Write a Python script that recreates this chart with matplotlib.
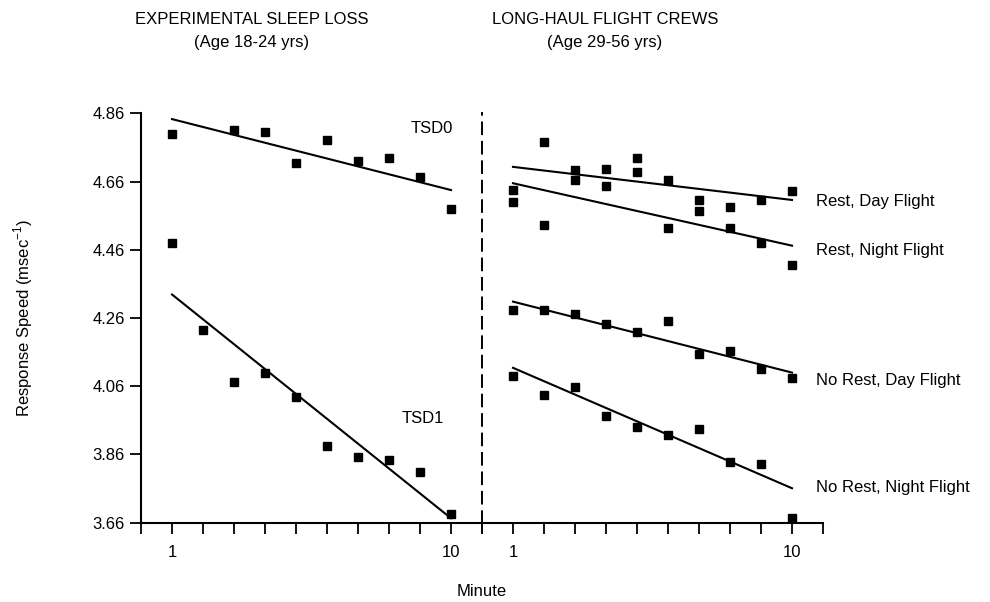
import numpy as np
import matplotlib
matplotlib.use("Agg")
import matplotlib.pyplot as plt

plt.rcParams['font.family'] = ['Liberation Sans', 'DejaVu Sans']

# minute bins (log spaced positions)
minutes = [1.0, 1.29, 1.67, 2.15, 2.78, 3.59, 4.64, 5.99, 7.74, 10.0]

# experimental sleep loss
tsd0 = [4.798, np.nan, 4.811, 4.804, 4.714, 4.782, 4.719, 4.729, 4.673, 4.580]
tsd1 = [4.480, 4.225, 4.073, 4.098, 4.027, 3.885, 3.853, 3.845, 3.808, 3.685]

# long-haul flight crews
rest_day = [4.634, 4.777, 4.694, 4.696, 4.728, 4.665, 4.606, 4.585, 4.606, 4.633]
rest_night = [4.601, 4.533, 4.664, 4.648, 4.689, 4.524, 4.573, 4.524, 4.480, 4.416]
norest_day = [4.283, 4.282, 4.273, 4.242, 4.218, 4.250, 4.155, 4.162, 4.110, 4.084]
norest_night = [4.090, 4.035, 4.059, 3.973, 3.941, 3.917, 3.934, 3.838, 3.832, 3.673]

# fitted lines, value at minute 1 and minute 10
fit_x = [1, 10]
fit_tsd0 = [4.843, 4.635]
fit_tsd1 = [4.329, 3.673]
fit_rest_day = [4.703, 4.606]
fit_rest_night = [4.655, 4.472]
fit_norest_day = [4.308, 4.100]
fit_norest_night = [4.114, 3.761]

yticks = [3.66, 3.86, 4.06, 4.26, 4.46, 4.66, 4.86]
xticks = [10 ** (k / 9) for k in range(-1, 11)]
xlim = (10 ** (-1 / 9), 10 ** (10 / 9))

fig = plt.figure(figsize=(9.9, 6.02), dpi=100)
W, H = 990, 602
bot, top = 522.7, 113.3
ax1 = fig.add_axes([141 / W, 1 - bot / H, (482 - 141) / W, (bot - top) / H])
ax2 = fig.add_axes([482 / W, 1 - bot / H, (823 - 482) / W, (bot - top) / H], sharey=ax1)

for ax in (ax1, ax2):
    ax.set_xscale('log')
    ax.set_xlim(*xlim)
    ax.set_ylim(3.66, 4.86)
    ax.set_xticks(xticks)
    ax.set_xticklabels(['1' if abs(t - 1) < 1e-6 else '10' if abs(t - 10) < 1e-6 else '' for t in xticks])
    ax.xaxis.set_minor_locator(matplotlib.ticker.NullLocator())
    ax.spines['top'].set_visible(False)
    ax.spines['right'].set_visible(False)
    ax.spines['bottom'].set_linewidth(1.5)
    ax.tick_params(axis='x', direction='out', length=8, width=1.3, labelsize=12, pad=8)
    ax.patch.set_visible(False)

ax1.spines['left'].set_linewidth(1.5)
ax1.set_yticks(yticks)
ax1.set_yticklabels(['%.2f' % v for v in yticks])
ax1.tick_params(axis='y', direction='out', length=8, width=1.3, labelsize=12)

ax2.spines['left'].set_linestyle((0, (6, 4)))
ax2.spines['left'].set_linewidth(1.4)
ax2.tick_params(axis='y', left=False, labelleft=False)

mk = dict(marker='s', color='black', linestyle='none', markersize=6)
ln = dict(color='black', linewidth=1.5)

ax1.plot(minutes, tsd0, **mk)
ax1.plot(minutes, tsd1, **mk)
ax1.plot(fit_x, fit_tsd0, **ln)
ax1.plot(fit_x, fit_tsd1, **ln)
ax1.text(8.53, 4.816, 'TSD0', fontsize=12, ha='center', va='center')
ax1.text(7.95, 3.966, 'TSD1', fontsize=12, ha='center', va='center')

series = [(rest_day, fit_rest_day, 'Rest, Day Flight', 4.601),
          (rest_night, fit_rest_night, 'Rest, Night Flight', 4.459),
          (norest_day, fit_norest_day, 'No Rest, Day Flight', 4.078),
          (norest_night, fit_norest_night, 'No Rest, Night Flight', 3.762)]
for vals, fit, name, ly in series:
    ax2.plot(minutes, vals, clip_on=False, **mk)
    ax2.plot(fit_x, fit, **ln)
    ax2.text(12.2, ly, name, fontsize=12, ha='left', va='center', clip_on=False)

title_font = ['Liberation Sans Narrow', 'Liberation Sans', 'DejaVu Sans']
fig.text(252 / W, 1 - 20 / H, 'EXPERIMENTAL SLEEP LOSS', fontsize=12, family=title_font, ha='center', va='center')
fig.text(252 / W, 1 - 42 / H, '(Age 18-24 yrs)', fontsize=12, family=title_font, ha='center', va='center')
fig.text(605 / W, 1 - 20 / H, 'LONG-HAUL FLIGHT CREWS', fontsize=12, family=title_font, ha='center', va='center')
fig.text(605 / W, 1 - 42 / H, '(Age 29-56 yrs)', fontsize=12, family=title_font, ha='center', va='center')

fig.text(23 / W, 1 - 318 / H, 'Response Speed (msec$^{\\mathregular{-1}}$)', fontsize=12,
         rotation=90, ha='center', va='center')
fig.text(482 / W, 1 - 591 / H, 'Minute', fontsize=12, ha='center', va='center')

fig.savefig('out.png', dpi=100)
